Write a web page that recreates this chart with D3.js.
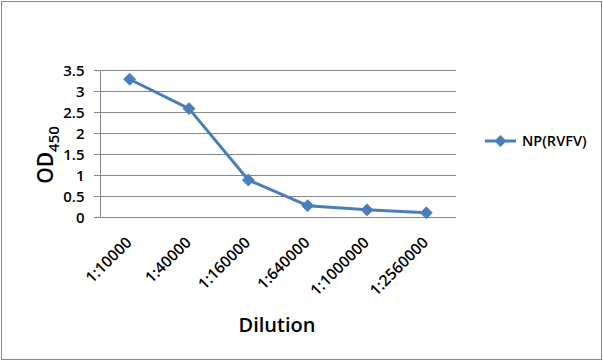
<!DOCTYPE html>
<html>
<head>
<meta charset="utf-8">
<script src="https://cdn.jsdelivr.net/npm/d3@7"></script>
<style>
  body { margin: 0; background: #fff; }
  text { font-family: "Open Sans", "Noto Sans", sans-serif; fill: #000; }
  .grid line { stroke: #868686; stroke-width: 1; }
  .axis path, .axis line { stroke: #868686; }
</style>
</head>
<body>
<div id="chart"></div>
<script>
"use strict";

const dilutions = ['1:10000', '1:40000', '1:160000', '1:640000', '1:1000000', '1:2560000'];
const odValues = [3.28, 2.58, 0.88, 0.27, 0.17, 0.10];
const yTicks = [0, 0.5, 1, 1.5, 2, 2.5, 3, 3.5];
const seriesName = 'NP(RVFV)';

const width = 603;
const height = 362;
const margin = { top: 70, right: 147, bottom: 145, left: 100 };
const plotW = width - margin.left - margin.right;
const plotH = height - margin.top - margin.bottom;
const blue = '#4A7EBB';

function translateStr(x, y) {
  return 'translate(' + x + ', ' + y + ')';
}

let svg = d3.select('#chart')
  .append('svg')
  .attr('width', width)
  .attr('height', height);

svg.append('rect')
  .attr('x', 1.5).attr('y', 1.5)
  .attr('width', width - 3).attr('height', height - 4)
  .attr('fill', 'none')
  .attr('stroke', '#868686');

let g = svg.append('g')
  .attr('transform', translateStr(margin.left, margin.top));

let x = d3.scaleBand()
  .domain(dilutions)
  .range([0, plotW]);

let y = d3.scaleLinear()
  .domain([0, 3.5])
  .range([plotH, 0]);

// horizontal gridlines with outside tick marks
g.append('g')
  .attr('class', 'grid')
  .selectAll('line')
  .data(yTicks)
  .join('line')
  .attr('x1', -6)
  .attr('x2', plotW)
  .attr('y1', d => Math.round(y(d)) + 0.5)
  .attr('y2', d => Math.round(y(d)) + 0.5);

// y axis
let yAxis = g.append('g')
  .attr('class', 'axis')
  .attr('transform', translateStr(0.5, 0.5))
  .call(d3.axisLeft(y).tickValues(yTicks).tickSize(0).tickPadding(16).tickFormat(d3.format('')));
yAxis.select('.domain').attr('d', 'M0,' + Math.round(y(3.5)) + 'V' + Math.round(y(0)));
yAxis.selectAll('text')
  .style('font-size', '15px')
  .style('font-weight', '600')
  .style('font-family', '"Open Sans", sans-serif');

// x axis labels
let xAxis = g.append('g')
  .attr('class', 'axis')
  .attr('transform', translateStr(0, plotH + 0.5))
  .call(d3.axisBottom(x).tickSize(0).tickPadding(0));
xAxis.select('.domain').remove();
xAxis.selectAll('text')
  .style('font-size', '15.5px')
  .style('font-weight', '600')
  .style('font-family', '"Open Sans", sans-serif')
  .attr('text-anchor', 'end')
  .attr('dy', 0)
  .attr('transform', 'translate(3, 26) rotate(-45)');

// line
let line = d3.line()
  .x((d, i) => x(dilutions[i]) + x.bandwidth() / 2)
  .y(d => y(d));

g.append('path')
  .datum(odValues)
  .attr('fill', 'none')
  .attr('stroke', blue)
  .attr('stroke-width', 3)
  .attr('stroke-linejoin', 'round')
  .attr('d', line);

let diamond = d3.symbol().type(d3.symbolDiamond2).size(90);

g.selectAll('.marker')
  .data(odValues)
  .join('path')
  .attr('class', 'marker')
  .attr('transform', (d, i) => translateStr(x(dilutions[i]) + x.bandwidth() / 2, y(d)))
  .attr('d', diamond)
  .attr('fill', blue)
  .attr('stroke', blue)
  .attr('stroke-width', 1);

// axis titles
let yTitle = svg.append('text')
  .attr('transform', translateStr(53, 155) + ' rotate(-90)')
  .attr('text-anchor', 'middle')
  .style('font-size', '21px')
  .style('font-weight', '600');
yTitle.append('tspan').text('OD');
yTitle.append('tspan')
  .attr('dy', 6)
  .style('font-size', '15px')
  .text('450');

svg.append('text')
  .attr('x', 277)
  .attr('y', 332)
  .attr('text-anchor', 'middle')
  .style('font-size', '20px')
  .style('font-weight', '600')
  .text('Dilution');

// legend
let legend = svg.append('g')
  .attr('transform', translateStr(485, 141));
legend.append('line')
  .attr('x1', 0).attr('x2', 31)
  .attr('stroke', blue)
  .attr('stroke-width', 3);
legend.append('path')
  .attr('transform', translateStr(15.5, 0))
  .attr('d', diamond)
  .attr('fill', blue);
legend.append('text')
  .attr('x', 37)
  .attr('y', 5)
  .style('font-size', '14.5px')
  .style('font-weight', '600')
  .text(seriesName);
</script>
</body>
</html>
